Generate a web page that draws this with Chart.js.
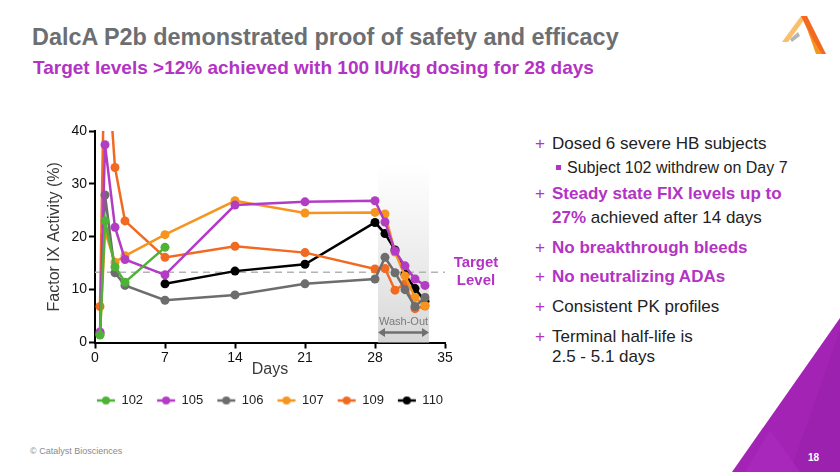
<!DOCTYPE html>
<html>
<head>
<meta charset="utf-8">
<script src="https://cdn.jsdelivr.net/npm/chart.js@4.4.1/dist/chart.umd.min.js"></script>
<style>
  body { margin: 0; background: #fff; font-family: "Liberation Sans", Arial, sans-serif; }
  #page { position: relative; width: 840px; height: 472px; overflow: hidden; }
  .abs { position: absolute; white-space: nowrap; }
  #titulo { left: 32px; top: 24px; font-size: 23.4px; font-weight: bold; color: #6d6e71; }
  #subtitulo { left: 33px; top: 57px; font-size: 19px; font-weight: bold; color: #b233c4; }
  .bul { font-size: 17px; line-height: 20px; color: #222; }
  .plus { color: #b233c4; font-size: 17px; line-height: 20px; }
  .pur { color: #b233c4; font-weight: bold; }
  #chartBox { position: absolute; left: 45px; top: 110px; width: 465px; height: 310px; }
  #pie { left: 30px; top: 446px; font-size: 9px; color: #8a8a8a; }
</style>
</head>
<body>
<div id="page">
  <div id="titulo" class="abs">DalcA P2b demonstrated proof of safety and efficacy</div>
  <div id="subtitulo" class="abs">Target levels &gt;12% achieved with 100 IU/kg dosing for 28 days</div>

  <!-- logo -->
  <svg class="abs" style="left:772px;top:12px" width="60" height="48" viewBox="0 0 60 48">
    <polygon points="10,30 29,4 35,4 16,30" fill="#fbbf6b"/>
    <polygon points="29,4 35,4 54,42 47,42" fill="#f26a21"/>
    <polygon points="34,14 40,26 50,42 44,42" fill="#f7941d"/>
    <polygon points="18,27 26,20 28,24 20,30" fill="#b5b5b5"/>
  </svg>

  <!-- triangulo inferior -->
  <svg class="abs" style="left:0;top:0" width="840" height="472">
    <polygon points="840,318 732,472 840,472" fill="#a323b5"/>
    <polygon points="840,330 790,472 840,472" fill="#9a21ad" opacity="0.7"/>
    <polygon points="770,430 800,472 745,472" fill="#ac2cbf" opacity="0.6"/>
    <text x="808" y="461" font-size="10" font-weight="bold" fill="#fff" font-family="Liberation Sans, Arial">18</text>
  </svg>

  <div id="chartBox"><canvas id="grafico"></canvas></div>

  <!-- texto derecho -->
  <div class="abs plus" style="left:535px;top:134px">+</div>
  <div class="abs bul" style="left:552px;top:134px">Dosed 6 severe HB subjects</div>
  <div class="abs" style="left:556px;top:165px;width:5px;height:5px;background:#b233c4"></div>
  <div class="abs bul" style="left:567px;top:158px;font-size:16px">Subject 102 withdrew on Day 7</div>
  <div class="abs plus" style="left:535px;top:184px">+</div>
  <div class="abs bul pur" style="left:552px;top:184px">Steady state FIX levels up to</div>
  <div class="abs bul" style="left:552px;top:208px"><span class="pur">27%</span> achieved after 14 days</div>
  <div class="abs plus" style="left:535px;top:238px">+</div>
  <div class="abs bul pur" style="left:552px;top:238px">No breakthrough bleeds</div>
  <div class="abs plus" style="left:535px;top:267px">+</div>
  <div class="abs bul pur" style="left:552px;top:267px">No neutralizing ADAs</div>
  <div class="abs plus" style="left:535px;top:297px">+</div>
  <div class="abs bul" style="left:552px;top:297px">Consistent PK profiles</div>
  <div class="abs plus" style="left:535px;top:327px">+</div>
  <div class="abs bul" style="left:552px;top:327px">Terminal half-life is</div>
  <div class="abs bul" style="left:552px;top:347px">2.5 - 5.1 days</div>

  <div id="pie" class="abs">© Catalyst Biosciences</div>
</div>

<script>
// Datos (dia, actividad FIX %)
const sujetos = ["102", "105", "106", "107", "109", "110"];
const colores = ["#4db336", "#b23dc4", "#6d6d6d", "#f7941d", "#f26a21", "#000000"];

const dias102 = [0.5, 1, 2, 3, 7];
const fix102 = [1.4, 23.0, 14.3, 11.4, 18.0];

const diasCompletos = [0.5, 1, 2, 3, 7, 14, 21, 28, 29, 30, 31, 32, 33];
const fix105 = [2.0, 37.4, 21.8, 15.7, 12.8, 26.0, 26.6, 26.8, 22.8, 17.3, 14.5, 12.0, 10.8];
const fix106 = [1.8, 27.9, 13.2, 10.8, 8.0, 9.0, 11.1, 12.0, 16.1, 13.2, 10.0, 6.8, 8.5];
const fix107 = [1.5, 21.0, 15.2, 16.4, 20.4, 26.8, 24.5, 24.6, 24.3, 17.1, 12.6, 8.5, 7.0];
const fix109 = [6.8, 60.0, 33.1, 23.0, 16.1, 18.2, 17.0, 13.9, 14.0, 9.9, 11.1, 6.4, 6.9];

const dias110 = [7, 14, 21, 28, 29, 30, 31, 32, 33];
const fix110 = [11.1, 13.5, 14.8, 22.7, 20.6, 17.5, 12.9, 10.2, 7.8];

const ticksX = [0, 7, 14, 21, 28, 35];
const ticksY = [0, 10, 20, 30, 40];

const nivelObjetivo = 13.3;
const lavadoInicio = 28.3;
const lavadoFin = 33.4;
const lavadoTope = 34;

const series = [
  [dias102, fix102],
  [diasCompletos, fix105],
  [diasCompletos, fix106],
  [diasCompletos, fix107],
  [diasCompletos, fix109],
  [dias110, fix110]
];

function armarPuntos(dias, valores) {
  return dias.map((d, i) => ({ x: d, y: valores[i] }));
}

// icono de leyenda: linea con punto
function iconoLeyenda(color) {
  const c = document.createElement("canvas");
  c.width = 20; c.height = 10;
  const g = c.getContext("2d");
  g.strokeStyle = color; g.lineWidth = 2.5;
  g.beginPath(); g.moveTo(1, 5); g.lineTo(19, 5); g.stroke();
  g.fillStyle = color;
  g.beginPath(); g.arc(10, 5, 4, 0, Math.PI * 2); g.fill();
  return c;
}

const extras = {
  id: "extras",
  afterLayout(chart) {
    // mover la leyenda para centrarla bajo el area del grafico
    const a = chart.chartArea;
    const centro = (chart.legend.left + chart.legend.right) / 2;
    const d = (a.left + a.right) / 2 - centro;
    chart.legend.left += d;
    chart.legend.right += d;
  },
  beforeDatasetsDraw(chart) {
    const ctx = chart.ctx;
    const a = chart.chartArea;
    const sx = chart.scales.x, sy = chart.scales.y;
    const x1 = sx.getPixelForValue(lavadoInicio);
    const x2 = sx.getPixelForValue(lavadoFin);
    const yt = sy.getPixelForValue(lavadoTope);
    ctx.save();
    const grad = ctx.createLinearGradient(0, yt, 0, a.bottom);
    grad.addColorStop(0, "rgba(225,225,225,0)");
    grad.addColorStop(1, "rgba(215,215,215,1)");
    ctx.fillStyle = grad;
    ctx.fillRect(x1, yt, x2 - x1, a.bottom - yt);

    // linea objetivo
    const yo = sy.getPixelForValue(nivelObjetivo);
    ctx.strokeStyle = "#b4b4b4";
    ctx.lineWidth = 1.5;
    ctx.setLineDash([7, 5]);
    ctx.beginPath(); ctx.moveTo(a.left, yo); ctx.lineTo(a.right, yo); ctx.stroke();
    ctx.setLineDash([]);

    // Wash-Out
    ctx.fillStyle = "#7a7a7a";
    ctx.font = "11px 'Liberation Sans', Arial";
    ctx.textAlign = "center";
    ctx.textBaseline = "middle";
    ctx.fillText("Wash-Out", (x1 + x2) / 2, a.bottom - 21);
    const ya = a.bottom - 10;
    ctx.strokeStyle = "#707070";
    ctx.lineWidth = 2.5;
    ctx.beginPath(); ctx.moveTo(x1 + 3, ya); ctx.lineTo(x2 - 3, ya); ctx.stroke();
    ctx.fillStyle = "#707070";
    ctx.beginPath(); ctx.moveTo(x1, ya); ctx.lineTo(x1 + 7, ya - 4.5); ctx.lineTo(x1 + 7, ya + 4.5); ctx.fill();
    ctx.beginPath(); ctx.moveTo(x2, ya); ctx.lineTo(x2 - 7, ya - 4.5); ctx.lineTo(x2 - 7, ya + 4.5); ctx.fill();
    ctx.restore();
  },
  afterDraw(chart) {
    const ctx = chart.ctx;
    const a = chart.chartArea;
    const yo = chart.scales.y.getPixelForValue(nivelObjetivo);
    ctx.save();
    ctx.fillStyle = "#b233c4";
    ctx.font = "bold 15px 'Liberation Sans', Arial";
    ctx.textAlign = "center";
    ctx.textBaseline = "middle";
    ctx.fillText("Target", a.right + 31, yo - 9);
    ctx.fillText("Level", a.right + 31, yo + 9);
    ctx.restore();
  }
};

const fuenteEje = { family: "'Liberation Sans', Arial", size: 14 };

new Chart(document.getElementById("grafico"), {
  type: "line",
  data: {
    datasets: series.map((s, i) => ({
      label: sujetos[i],
      data: armarPuntos(s[0], s[1]),
      borderColor: colores[i],
      backgroundColor: colores[i],
      borderWidth: 2.5,
      pointRadius: 4.5,
      pointHoverRadius: 4.5,
      pointBorderWidth: 0,
      tension: 0
    }))
  },
  options: {
    responsive: true,
    maintainAspectRatio: false,
    animation: false,
    layout: { padding: { top: 21, right: 65, bottom: 3, left: 0 } },
    plugins: {
      tooltip: { enabled: false },
      legend: {
        position: "bottom",
        labels: {
          usePointStyle: true,
          pointStyleWidth: 18,
          padding: 14,
          color: "#222",
          font: { family: "'Liberation Sans', Arial", size: 13 },
          generateLabels: chart => Chart.defaults.plugins.legend.labels.generateLabels(chart)
            .map((l, i) => ({ ...l, pointStyle: iconoLeyenda(colores[i]) }))
        }
      }
    },
    scales: {
      x: {
        type: "linear",
        min: 0,
        max: 35,
        afterBuildTicks: sc => { sc.ticks = ticksX.map(v => ({ value: v })); },
        afterFit: sc => { sc.height = 37.5; },
        grid: { drawOnChartArea: false, color: "#000", tickLength: 6, tickWidth: 2 },
        border: { color: "#000", width: 2 },
        ticks: { color: "#111", font: fuenteEje, padding: 1, maxRotation: 0 },
        title: { display: true, text: "Days", color: "#3a3a3a", font: { family: "'Liberation Sans', Arial", size: 16 }, padding: { top: 0, bottom: 1 } }
      },
      y: {
        min: 0,
        max: 40,
        afterBuildTicks: sc => { sc.ticks = ticksY.map(v => ({ value: v })); },
        afterFit: sc => { sc.width = 50; },
        grid: { drawOnChartArea: false, color: "#000", tickLength: 6, tickWidth: 2 },
        border: { color: "#000", width: 2 },
        ticks: { color: "#111", font: fuenteEje, padding: 2 },
        title: { display: true, text: "Factor IX Activity (%)", color: "#3a3a3a", font: { family: "'Liberation Sans', Arial", size: 16 }, padding: { top: 0, bottom: 0 } }
      }
    }
  },
  plugins: [extras]
});
</script>
</body>
</html>
